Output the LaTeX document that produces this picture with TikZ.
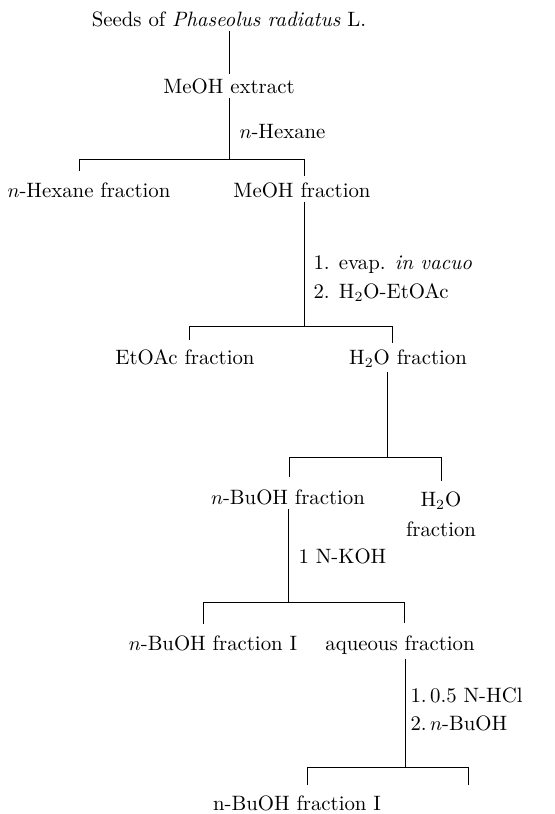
\documentclass[tikz,border=0pt]{standalone}
\begin{document}
\begin{tikzpicture}[x=0.5pt,y=-0.5pt,
  frac/.style={anchor=base,inner sep=2pt,font=\fontsize{10.4}{15}\selectfont},
  lbl/.style={anchor=base west,inner sep=0pt,font=\fontsize{10.4}{14}\selectfont},
  every path/.style={line width=0.5pt}]
\useasboundingbox (0,0) rectangle (555,814);

% compounds and fractions
\node[frac] (seeds)  at (229,26)  {Seeds of \textit{Phaseolus radiatus} L.};
\node[frac] (extract) at (229,93) {MeOH extract};
\node[frac] (hexfr)  at (89,197)  {$n$-Hexane fraction};
\node[frac] (meohfr) at (302,197) {MeOH fraction};
\node[frac] (etoac)  at (185,364) {EtOAc fraction};
\node[frac] (h2ofr)  at (408,364) {H$_2$O fraction};
\node[frac] (buoh)   at (288,504) {$n$-BuOH fraction};
\node[frac,align=center] (h2orest) at (441,536) {H$_2$O\\fraction};
\node[frac] (buohI)  at (213,650) {$n$-BuOH fraction I};
\node[frac] (aq)     at (400,650) {aqueous fraction};
\node[frac] (final)  at (297,810) {n-BuOH fraction I};

% reagents beside the stems
\node[lbl] (r1) at (239,138) {$n$-Hexane};
\node[lbl] (r2) at (313,269) {1. evap. \textit{in vacuo}};
\node[lbl] (r3) at (313,298) {2. H$_2$O-EtOAc};
\node[lbl] (r4) at (298,563) {1 N-KOH};
\node[lbl] (r5) at (410,702) {1.\,0.5 N-HCl};
\node[lbl] (r6) at (410,730) {2.\,$n$-BuOH};

% junctions of the stems with the brackets
\coordinate (j1) at (229,159);
\coordinate (j2) at (304,326);
\coordinate (j3) at (387,457);
\coordinate (j4) at (288,602);
\coordinate (j5) at (405,767);

% bracket corners and tick ends
\coordinate (a1) at (79,171);  \coordinate (b1) at (79,159);
\coordinate (c1) at (304,159); \coordinate (d1) at (304,176);
\coordinate (a2) at (189,340); \coordinate (b2) at (189,326);
\coordinate (c2) at (392,326); \coordinate (d2) at (392,343);
\coordinate (a3) at (289,477); \coordinate (b3) at (289,457);
\coordinate (c3) at (441,457); \coordinate (d3) at (441,481);
\coordinate (a4) at (203,624); \coordinate (b4) at (203,602);
\coordinate (c4) at (404,602); \coordinate (d4) at (404,623);
\coordinate (a5) at (307,785); \coordinate (b5) at (307,767);
\coordinate (c5) at (468,767); \coordinate (d5) at (468,785);

% stems
\draw (seeds.south) -- (extract.north);
\draw (extract.south -| j1) -- (j1);
\draw (meohfr.south -| j2) -- (j2);
\draw (h2ofr.south -| j3) -- (j3);
\draw (buoh.south -| j4) -- (j4);
\draw (aq.south -| j5) -- (j5);

% brackets
\draw (a1) -- (b1) -- (c1) -- (d1);
\draw (a2) -- (b2) -- (c2) -- (d2);
\draw (a3) -- (b3) -- (c3) -- (d3);
\draw (a4) -- (b4) -- (c4) -- (d4);
\draw (a5) -- (b5) -- (c5) -- (d5);
\end{tikzpicture}
\end{document}
